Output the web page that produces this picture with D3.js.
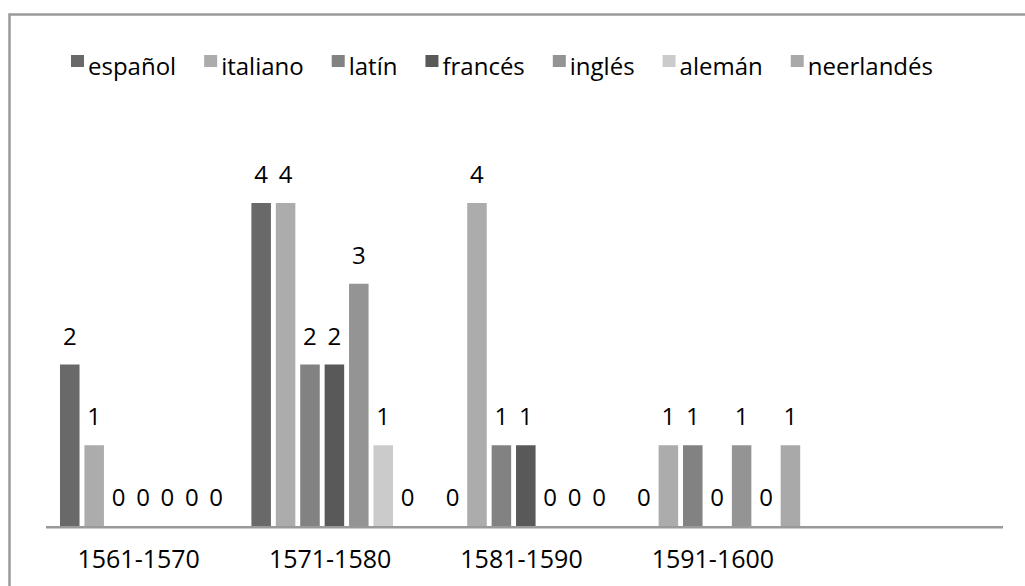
<!doctype html>
<html>
<head>
<meta charset="UTF-8">
<title>idiomas</title>
<script src="https://d3js.org/d3.v7.min.js"></script>
<style>
  body { margin: 0; background: #fff; }
  text { font-family: "Open Sans", "Lato", sans-serif; fill: #000; }
</style>
</head>
<body>
<svg width="1025" height="586"></svg>
<script>
// data
var periods = ["1561-1570", "1571-1580", "1581-1590", "1591-1600", ""];
var languages = ["español", "italiano", "latín", "francés", "inglés", "alemán", "neerlandés"];
var espanol    = [2, 4, 0, 0];
var italiano   = [1, 4, 4, 1];
var latin      = [0, 2, 1, 1];
var frances    = [0, 2, 1, 0];
var ingles     = [0, 3, 0, 1];
var aleman     = [0, 1, 0, 0];
var neerlandes = [0, 0, 0, 1];
var colors = ["#696969", "#acacac", "#828282", "#595959", "#949494", "#cbcbcb", "#a9a9a9"];

var seriesValues = [espanol, italiano, latin, frances, ingles, aleman, neerlandes];

var svg = d3.select("svg");

// outer frame
svg.append("rect")
  .attr("x", 9.5).attr("y", 14.5)
  .attr("width", 1040).attr("height", 600)
  .attr("fill", "none")
  .attr("stroke", "#9a9a9a")
  .attr("stroke-width", 2.5);

var x0 = d3.scaleBand().domain(periods).range([46, 1003]);
var x1 = d3.scaleBand().domain(languages).range([14, 180]).paddingInner(0.2);
var y = d3.scaleLinear().domain([0, 5]).range([526, 122.25]);

var rows = [];
periods.forEach(function(p, i) {
  languages.forEach(function(l, j) {
    var v = seriesValues[j][i];
    if (v !== undefined) rows.push({ period: p, lang: l, value: v, color: colors[j] });
  });
});

var g = svg.append("g");

g.selectAll("rect.bar").data(rows).enter().append("rect")
  .attr("class", "bar")
  .attr("x", function(d) { return x0(d.period) + x1(d.lang); })
  .attr("y", function(d) { return y(d.value); })
  .attr("width", x1.bandwidth())
  .attr("height", function(d) { return y(0) - y(d.value); })
  .attr("fill", function(d) { return d.color; });

g.selectAll("text.val").data(rows).enter().append("text")
  .attr("class", "val")
  .attr("x", function(d) { return x0(d.period) + x1(d.lang) + x1.bandwidth() / 2; })
  .attr("y", function(d) { return y(d.value) - 20; })
  .attr("text-anchor", "middle")
  .attr("font-size", "24px")
  .text(function(d) { return d.value; });

// baseline axis
svg.append("line")
  .attr("x1", 46).attr("x2", 1003)
  .attr("y1", y(0) + 1.2).attr("y2", y(0) + 1.2)
  .attr("stroke", "#999")
  .attr("stroke-width", 2.6);

svg.selectAll("text.cat").data(periods).enter().append("text")
  .attr("class", "cat")
  .attr("x", function(d) { return x0(d) + x0.bandwidth() / 2 - 3; })
  .attr("y", 568)
  .attr("text-anchor", "middle")
  .attr("font-size", "25px")
  .text(function(d) { return d; });

// legend
var lx = 71;
languages.forEach(function(l, j) {
  var item = svg.append("g").attr("transform", "translate(" + lx + ",0)");
  item.append("rect")
    .attr("x", 0).attr("y", 55)
    .attr("width", 13).attr("height", 12)
    .attr("fill", colors[j]);
  var t = item.append("text")
    .attr("x", 17).attr("y", 75)
    .attr("font-size", "24px")
    .text(l);
  lx += 17 + t.node().getComputedTextLength() + 28;
});
</script>
</body>
</html>
